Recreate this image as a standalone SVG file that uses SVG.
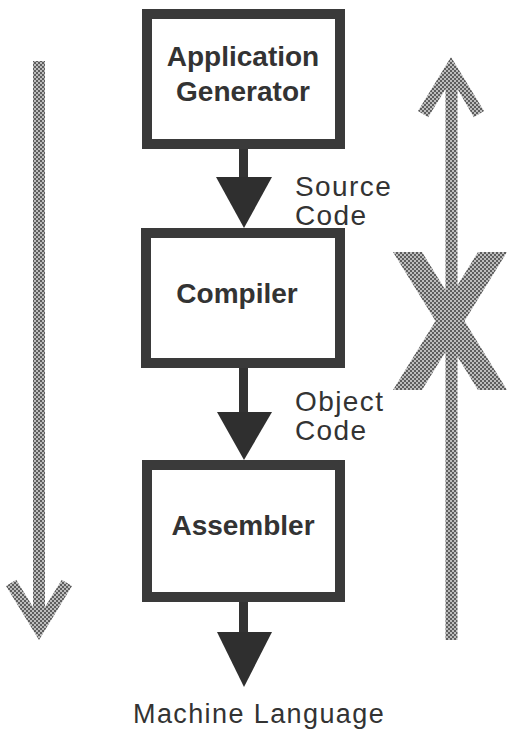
<svg xmlns="http://www.w3.org/2000/svg" width="509" height="734" viewBox="0 0 509 734">
  <defs>
    <pattern id="chk" width="4" height="4" patternUnits="userSpaceOnUse">
      <rect width="4" height="4" fill="#bdbdbd"/>
      <rect width="2" height="2" fill="#5e5e5e"/>
      <rect x="2" y="2" width="2" height="2" fill="#5e5e5e"/>
    </pattern>
    <style>
      .box { fill: #ffffff; stroke: #3a3a3a; stroke-width: 10; }
      .stem { stroke: #333333; stroke-width: 9; }
      .head { fill: #2f2f2f; }
      .bold { font-family: "Liberation Sans", Arial, sans-serif; font-weight: bold; font-size: 28px; fill: #333333; text-anchor: middle; }
      .lbl { font-family: "Liberation Sans", Arial, sans-serif; font-size: 28px; fill: #333333; letter-spacing: 1.4px; }
      .gray { fill: url(#chk); }
    </style>
  </defs>
  <rect width="509" height="734" fill="#ffffff"/>

  <g id="connectors">
    <line class="stem" x1="243.5" y1="149" x2="243.5" y2="178"/>
    <polygon class="head" points="216,177 272,177 244,228"/>
    <line class="stem" x1="243.5" y1="368" x2="243.5" y2="413"/>
    <polygon class="head" points="217,412 272,412 244,460"/>
    <line class="stem" x1="243.5" y1="602" x2="243.5" y2="633"/>
    <polygon class="head" points="217,632 272,632 244,687"/>
  </g>

  <g id="node-appgen">
    <rect class="box" x="147" y="14" width="193" height="130"/>
    <text class="bold" x="243" y="66">Application</text>
    <text class="bold" x="243" y="101">Generator</text>
  </g>
  <g id="node-compiler">
    <rect class="box" x="146" y="233" width="194" height="130"/>
    <text class="bold" x="237" y="303">Compiler</text>
  </g>
  <g id="node-assembler">
    <rect class="box" x="147" y="465" width="193" height="132"/>
    <text class="bold" x="243" y="535">Assembler</text>
  </g>

  <g id="labels">
    <text class="lbl" x="295" y="196">Source</text>
    <text class="lbl" x="295" y="225">Code</text>
    <text class="lbl" x="295" y="411">Object</text>
    <text class="lbl" x="295" y="440">Code</text>
    <text class="lbl" x="133" y="723" style="font-size:27px">Machine Language</text>
  </g>

  <g id="down-arrow">
    <polygon class="gray" points="33,61 45,61 45,607 61.8,579.7 72,586 39,640 6,586 16.2,579.7 33,607"/>
  </g>
  <g id="up-arrow">
    <polygon class="gray" points="445.5,640 457.5,640 457.5,89 473.8,117.3 484,111 451,57 418,111 428.2,117.3 445.5,89"/>
  </g>
  <g id="cross">
    <polygon class="gray" points="393,252 422,252 507,390 478,390"/>
    <polygon class="gray" points="478,252 507,252 422,390 393,390"/>
  </g>
</svg>
